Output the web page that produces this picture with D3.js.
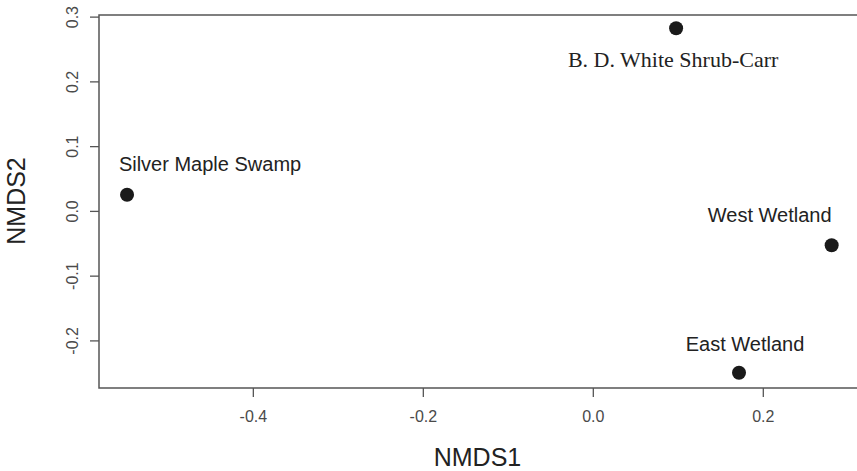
<!DOCTYPE html>
<html lang="en">
<head>
  <meta charset="UTF-8" />
  <title>NMDS ordination</title>
  <style>
    body { margin: 0; background: #fff; }
    svg { display: block; }
    .axis-title { font: 25px 'Liberation Sans', Arial, sans-serif; fill: #222; }
    .site-label { font: 20px 'Liberation Sans', Arial, sans-serif; fill: #222; }
    .site-label.serif { font: 22px 'Liberation Serif', 'Times New Roman', serif; }
  </style>
</head>
<body>
  <svg id="chart" width="857" height="471"></svg>

  <script src="https://d3js.org/d3.v7.min.js"></script>
  <script>
    // sites and their NMDS scores
    const sites = ["Silver Maple Swamp", "B. D. White Shrub-Carr", "West Wetland", "East Wetland"];
    const nmds1 = [-0.548, 0.098, 0.281, 0.172];
    const nmds2 = [0.025, 0.282, -0.053, -0.250];
    const xTicks = [-0.4, -0.2, 0.0, 0.2];
    const yTicks = [-0.2, -0.1, 0.0, 0.1, 0.2, 0.3];

    const svg = d3.select("#chart");
    const plotLeft = 99, plotRight = 858, plotTop = 15, plotBottom = 388;

    const x = d3.scaleLinear().domain([-0.581, 0.312]).range([plotLeft, plotRight]);
    const y = d3.scaleLinear().domain([-0.2735, 0.3025]).range([plotBottom, plotTop]);

    // R-style labels with a plain hyphen
    const fmt = d => d.toFixed(1);

    // plot frame
    svg.append("rect")
      .attr("x", plotLeft).attr("y", plotTop)
      .attr("width", plotRight - plotLeft).attr("height", plotBottom - plotTop)
      .attr("fill", "none").attr("stroke", "#555").attr("stroke-width", 1.5);

    function styleAxis(g) {
      g.attr("font-size", 16).attr("font-family", "'Liberation Sans', Arial, sans-serif");
      g.select(".domain").remove();
      g.selectAll(".tick line").attr("stroke", "#555").attr("stroke-width", 1.3);
      g.selectAll(".tick text").attr("fill", "#4a4a4a");
    }

    const xAxis = svg.append("g")
      .attr("transform", `translate(0,${plotBottom})`)
      .call(d3.axisBottom(x).tickValues(xTicks).tickFormat(fmt).tickSize(9).tickPadding(14))
      .call(styleAxis);

    const yAxis = svg.append("g")
      .attr("transform", `translate(${plotLeft},0)`)
      .call(d3.axisLeft(y).tickValues(yTicks).tickFormat(fmt).tickSize(9).tickPadding(0))
      .call(styleAxis);
    yAxis.selectAll(".tick text")
      .attr("x", 0)
      .attr("text-anchor", "middle")
      .attr("transform", "translate(-27,0) rotate(-90)")
      .attr("dy", "0.35em");

    // axis titles
    svg.append("text").attr("class", "axis-title")
      .attr("x", (plotLeft + plotRight) / 2 - 1).attr("y", 466)
      .attr("text-anchor", "middle").text("NMDS1");
    svg.append("text").attr("class", "axis-title")
      .attr("transform", "translate(25,201) rotate(-90)")
      .attr("text-anchor", "middle").text("NMDS2");

    const data = sites.map((s, i) => ({ name: s, x: nmds1[i], y: nmds2[i] }));

    svg.selectAll("circle.site").data(data).enter()
      .append("circle").attr("class", "site")
      .attr("cx", d => x(d.x)).attr("cy", d => y(d.y))
      .attr("r", 7).attr("fill", "#1a1a1a");

    // label offsets relative to the point (dx, dy to baseline)
    const labelOffset = {
      "Silver Maple Swamp": [83, -24],
      "B. D. White Shrub-Carr": [-3, 39],
      "West Wetland": [-62, -23],
      "East Wetland": [6, -22]
    };

    svg.selectAll("text.site-label").data(data).enter()
      .append("text")
      .attr("class", d => d.name.startsWith("B.") ? "site-label serif" : "site-label")
      .attr("x", d => x(d.x) + labelOffset[d.name][0])
      .attr("y", d => y(d.y) + labelOffset[d.name][1])
      .attr("text-anchor", "middle")
      .text(d => d.name);
  </script>
</body>
</html>
